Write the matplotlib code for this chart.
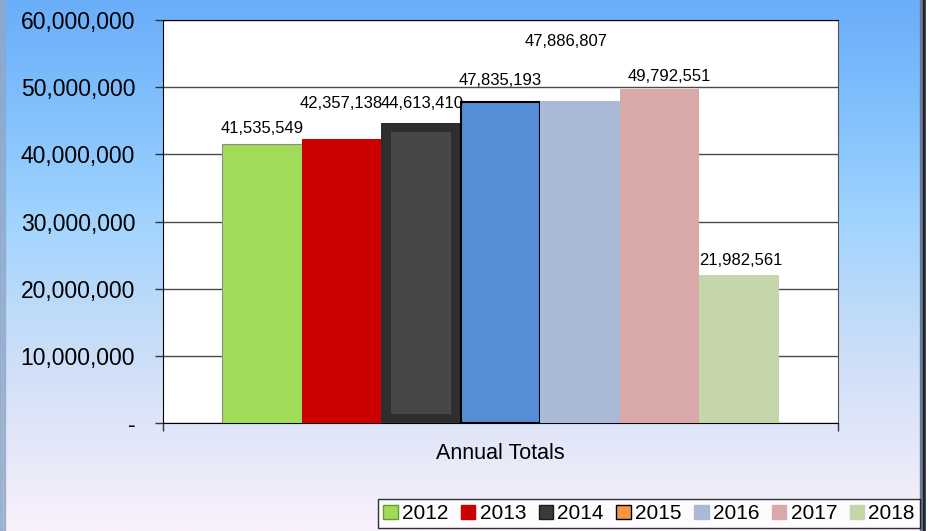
import matplotlib.pyplot as plt
import numpy as np
from matplotlib.colors import LinearSegmentedColormap
from matplotlib.patches import Patch, Rectangle
from matplotlib.ticker import FuncFormatter

plt.rcParams['font.family'] = ['Liberation Sans', 'DejaVu Sans']

years = ['2012', '2013', '2014', '2015', '2016', '2017', '2018']
totals = [41535549, 42357138, 44613410, 47835193, 47886807, 49792551, 21982561]
bar_colors = ['#a0dc58', '#cc0000', '#2e2e2e', '#558ed5', '#aab9d8', '#d9a9aa', '#c5d6aa']
legend_colors = ['#a0dc58', '#cc0000', '#3a3a3a', '#f79646', '#aab9d8', '#d9a9aa', '#c5d6aa']
legend_edges = ['#6a9a38', '#cc0000', '#1a1a1a', '#000000', '#aab9d8', '#d9a9aa', '#c5d6aa']
# label nudges (points): the original labels sit irregularly
label_dx = [0, 0, 1, 0, -10, 7, 1]
label_dy = [6, 20, 9, 10, 38, 3, 5]

W, H = 935, 531
fig = plt.figure(figsize=(W / 100, H / 100), dpi=100)

# gradient background
bg = fig.add_axes([0, 0, 1, 1], zorder=-10)
grad = LinearSegmentedColormap.from_list('bg', [
    (0.0, '#6aaefa'), (0.2, '#80c0fd'), (0.42, '#a2d4fe'),
    (0.62, '#c4dcf8'), (0.8, '#dfe5f8'), (1.0, '#f9f1fb')])
bg.imshow(np.linspace(0, 1, 256).reshape(-1, 1), aspect='auto', cmap=grad,
          extent=[0, 1, 0, 1], origin='upper')
bg.add_patch(Rectangle((0, 0), 5 / W, 1, color='#8fa8c8', alpha=0.8))
bg.add_patch(Rectangle((920 / W, 0), 3 / W, 1, color='#6a7a90'))
bg.add_patch(Rectangle((923 / W, 0), 3 / W, 1, color='#1e2432'))
bg.add_patch(Rectangle((926 / W, 0), 9 / W, 1, color='white'))
bg.set_xlim(0, 1)
bg.set_ylim(0, 1)
bg.axis('off')

ax = fig.add_axes([163 / W, 1 - 423 / H, 675 / W, 403 / H])
ax.set_facecolor('white')
x = np.arange(len(years))
ax.set_xlim(-1.24, 7.24)
ax.set_ylim(0, 60000000)

px_y = 60000000 / 403
for i in range(len(years)):
    edge = 'none'
    lw = 0
    if years[i] == '2012':
        edge, lw = '#8c8c8c', 0.8
    if years[i] == '2015':
        edge, lw = 'black', 1.5
    ax.bar(x[i], totals[i], width=1.0, color=bar_colors[i], edgecolor=edge,
           linewidth=lw, zorder=3)
    if years[i] == '2014':
        # bevelled look
        ax.bar(x[i], totals[i] - 18 * px_y, bottom=9 * px_y, width=0.76,
               color='#474747', zorder=4)
    ax.annotate(f'{totals[i]:,}', (x[i], totals[i]),
                xytext=(label_dx[i], label_dy[i]), textcoords='offset points',
                ha='center', va='bottom', fontsize=12, zorder=5)

ax.set_yticks(np.arange(0, 60000001, 10000000))
ax.yaxis.set_major_formatter(FuncFormatter(lambda v, p: '-' if v == 0 else f'{int(v):,}'))
ax.tick_params(axis='y', labelsize=16.5, length=6, width=1, color='#333333', pad=14)
ax.grid(axis='y', color='#4a4a4a', linewidth=1, zorder=0)
ax.set_xticks([-1.24, 7.24])
ax.set_xticklabels(['', ''])
ax.tick_params(axis='x', length=6, width=1, color='#333333')
ax.set_xlabel('Annual Totals', fontsize=15.5, labelpad=5)
for s in ['left', 'bottom', 'top']:
    ax.spines[s].set_color('black')
ax.spines['right'].set_color('#555555')

handles = [Patch(facecolor=legend_colors[i], edgecolor=legend_edges[i], label=years[i])
           for i in range(len(years))]
leg = fig.legend(handles=handles, loc='upper left', bbox_to_anchor=(378 / W, 1 - 499 / H),
                 ncol=7, fontsize=15, frameon=True, fancybox=False, handlelength=0.7,
                 handleheight=0.7, handletextpad=0.2, columnspacing=0.6,
                 borderpad=0.25, borderaxespad=0)
leg.get_frame().set_edgecolor('black')
leg.get_frame().set_facecolor('white')
leg.get_frame().set_linewidth(1)
leg.set_zorder(10)

fig.savefig('out.png', dpi=100)
